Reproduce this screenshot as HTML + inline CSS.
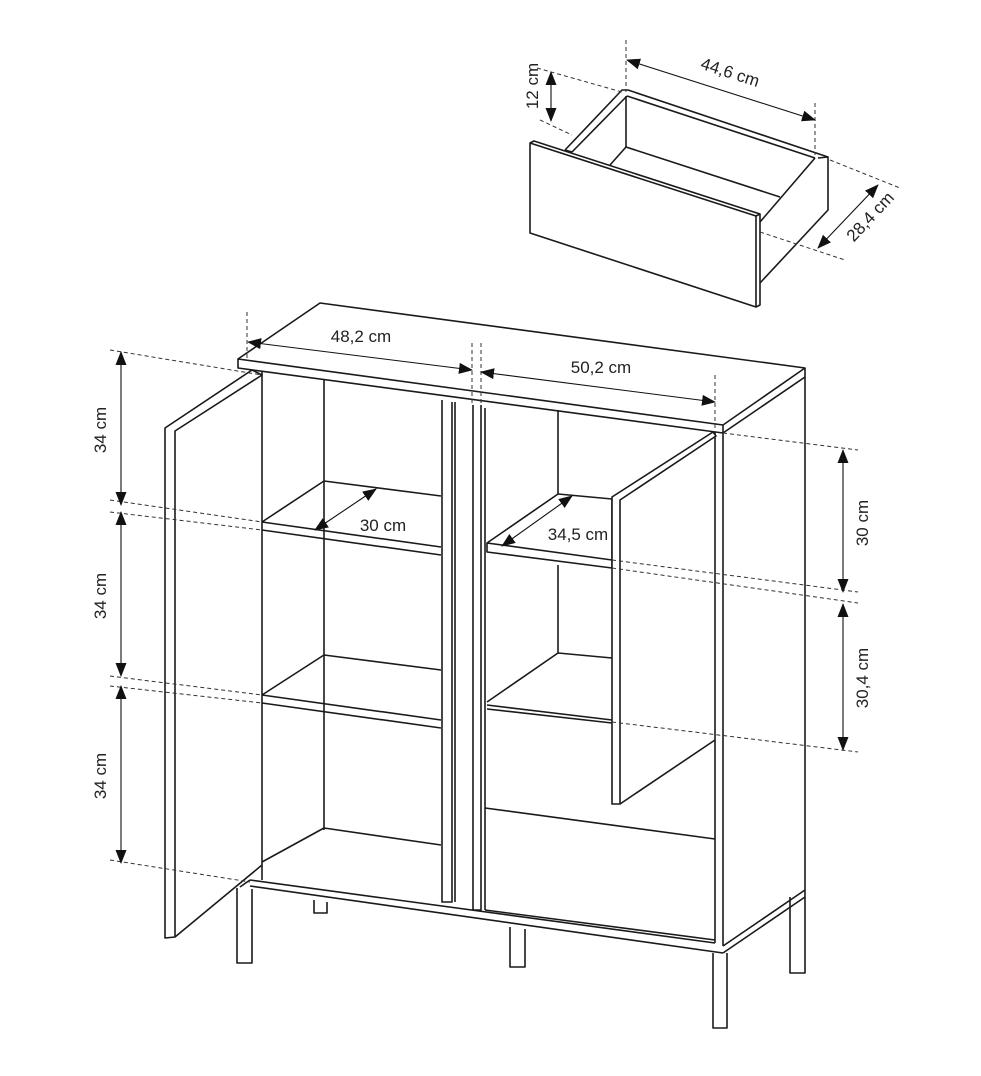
<!DOCTYPE html>
<html><head><meta charset="utf-8"><style>
html,body{margin:0;padding:0;background:#fff;}
svg{display:block;}
text{font-family:"Liberation Sans",sans-serif;font-size:17px;fill:#222;}
</style></head><body>
<svg width="981" height="1076" viewBox="0 0 981 1076" xmlns="http://www.w3.org/2000/svg">
<defs>
<marker id="a" viewBox="0 0 14 12" refX="13" refY="6" markerWidth="14" markerHeight="12" orient="auto-start-reverse" markerUnits="userSpaceOnUse"><path d="M0,0.5 L14,6 L0,11.5 z" fill="#111"/></marker>
</defs>
<g fill="none" stroke="#1a1a1a" stroke-width="1.6" stroke-linejoin="round">
<!-- DRAWER -->
<polygon points="530,143 756,216 756,307 530,233" fill="#fff"/>
<polyline points="530,143 534,141 760,214 760,305 756,307"/>
<line x1="756" y1="216" x2="760" y2="214"/>
<polyline points="565,150 622,90 628,90 828,157 828,210 760,283"/>
<line x1="572" y1="152" x2="627" y2="96"/>
<line x1="565" y1="150" x2="572" y2="152"/>
<line x1="627" y1="96" x2="815" y2="158"/>
<line x1="815" y1="158" x2="760" y2="222"/>
<line x1="818" y1="158" x2="828" y2="157"/>
<line x1="626" y1="96" x2="626" y2="147"/>
<line x1="626" y1="147" x2="780" y2="197"/>
<line x1="610" y1="165" x2="626" y2="147"/>
<!-- TOP -->
<polygon points="238,359 320,303 805,368 723,425" fill="#fff"/>
<polyline points="238,359 238,368 723,433 805,377 805,368"/>
<line x1="723" y1="425" x2="723" y2="433"/>
<!-- right side -->
<line x1="715" y1="432" x2="715" y2="943"/>
<line x1="723" y1="433" x2="723" y2="946"/>
<line x1="805" y1="377" x2="805" y2="890"/>
<!-- left side -->
<line x1="262" y1="372" x2="262" y2="880"/>
<line x1="324" y1="380" x2="324" y2="830"/>
<!-- left shelves -->
<polyline points="262,522 324,481 441,496"/>
<line x1="262" y1="522" x2="441" y2="547"/><line x1="262" y1="530" x2="441" y2="555"/>
<polyline points="262,695 324,655 441,670"/>
<line x1="262" y1="695" x2="441" y2="720"/><line x1="262" y1="703" x2="441" y2="728"/>
<polyline points="262,862 324,828 441,845"/>
<!-- center -->
<polyline points="442,400 442,902 452,902 452,402"/>
<line x1="455" y1="402" x2="455" y2="902"/>
<polyline points="473,405 473,910 481,910 481,405"/>
<!-- right compartment -->
<line x1="485" y1="408" x2="485" y2="910"/>
<line x1="558" y1="410" x2="558" y2="494"/>
<line x1="558" y1="565" x2="558" y2="653"/>
<polygon points="487,543 558,494 612,499 612,568 487,552" fill="#fff"/>
<line x1="487" y1="543" x2="612" y2="560"/>
<polyline points="487,702 558,653 612,658"/>
<line x1="487" y1="705" x2="612" y2="720"/><line x1="487" y1="709" x2="612" y2="723"/>
<line x1="485" y1="808" x2="715" y2="839"/>
<!-- right door -->
<polygon points="612,497 713,432 716,436 620,500 620,804 612,804" fill="#fff"/>
<line x1="620" y1="804" x2="715" y2="740"/>
<!-- left door -->
<polygon points="165,428 252,370 262,375 175,431 175,937 165,938" fill="#fff"/>
<line x1="175" y1="937" x2="262" y2="865"/>
<!-- base -->
<line x1="250" y1="880" x2="715" y2="943"/>
<line x1="250" y1="886" x2="723" y2="953"/>
<line x1="485" y1="910" x2="715" y2="940"/>
<line x1="723" y1="946" x2="805" y2="890"/>
<line x1="723" y1="953" x2="805" y2="897"/>
<line x1="240" y1="887" x2="250" y2="880"/>
<!-- legs -->
<polyline points="237,888 237,963 252,963 252,889"/>
<polyline points="510,927 510,967 525,967 525,929"/>
<polyline points="713,953 713,1028 727,1028 727,953"/>
<polyline points="790,897 790,973 805,973 805,890"/>
<polyline points="314,900 314,913 327,913 327,902"/>
</g>
<!-- dashed lines -->
<g fill="none" stroke="#333" stroke-width="1" stroke-dasharray="4,3">
<line x1="626" y1="40" x2="626" y2="92"/>
<line x1="815" y1="103" x2="815" y2="155"/>
<line x1="537" y1="68" x2="622" y2="92"/>
<line x1="540" y1="120" x2="572" y2="135"/>
<line x1="830" y1="160" x2="900" y2="188"/>
<line x1="760" y1="232" x2="845" y2="260"/>
<line x1="247" y1="312" x2="247" y2="360"/>
<line x1="472" y1="343" x2="472" y2="405"/>
<line x1="481" y1="343" x2="481" y2="405"/>
<line x1="715" y1="375" x2="715" y2="430"/>
<line x1="110" y1="350" x2="262" y2="375"/>
<line x1="110" y1="500" x2="262" y2="522"/>
<line x1="110" y1="512" x2="262" y2="530"/>
<line x1="110" y1="676" x2="262" y2="695"/>
<line x1="110" y1="686" x2="262" y2="703"/>
<line x1="110" y1="860" x2="250" y2="882"/>
<line x1="723" y1="433" x2="858" y2="450"/>
<line x1="612" y1="560" x2="858" y2="592"/>
<line x1="612" y1="568" x2="858" y2="603"/>
<line x1="612" y1="722" x2="858" y2="752"/>
</g>
<!-- arrows -->
<g stroke="#111" stroke-width="1.1" marker-start="url(#a)" marker-end="url(#a)">
<line x1="627" y1="60" x2="815" y2="120"/>
<line x1="551" y1="72" x2="551" y2="121"/>
<line x1="878" y1="185" x2="818" y2="248"/>
<line x1="248" y1="342" x2="472" y2="370"/>
<line x1="481" y1="372" x2="715" y2="402"/>
<line x1="121" y1="352" x2="121" y2="505"/>
<line x1="121" y1="512" x2="121" y2="676"/>
<line x1="121" y1="686" x2="121" y2="863"/>
<line x1="843" y1="450" x2="843" y2="592"/>
<line x1="843" y1="604" x2="843" y2="750"/>
<line x1="315" y1="530" x2="376" y2="489"/>
<line x1="502" y1="546" x2="572" y2="496"/>
</g>
<!-- labels -->
<text x="730" y="78" text-anchor="middle" transform="rotate(18 730 73)">44,6 cm</text>
<text x="538" y="86" text-anchor="middle" transform="rotate(-90 538 86)">12 cm</text>
<text x="872" y="225" text-anchor="middle" transform="rotate(-47 868 220)">28,4 cm</text>
<text x="361" y="342" text-anchor="middle">48,2 cm</text>
<text x="601" y="373" text-anchor="middle">50,2 cm</text>
<text x="383" y="531" text-anchor="middle">30 cm</text>
<text x="578" y="540" text-anchor="middle">34,5 cm</text>
<text x="106" y="430" text-anchor="middle" transform="rotate(-90 106 430)">34 cm</text>
<text x="106" y="596" text-anchor="middle" transform="rotate(-90 106 596)">34 cm</text>
<text x="106" y="776" text-anchor="middle" transform="rotate(-90 106 776)">34 cm</text>
<text x="868" y="523" text-anchor="middle" transform="rotate(-90 868 523)">30 cm</text>
<text x="868" y="678" text-anchor="middle" transform="rotate(-90 868 678)">30,4 cm</text>
</svg>
</body></html>
